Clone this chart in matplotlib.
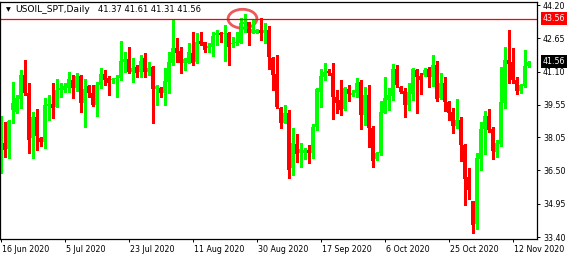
import numpy as np
import matplotlib
matplotlib.use("Agg")
import matplotlib.pyplot as plt
import matplotlib.transforms as mtrans
from matplotlib.patches import Ellipse

# daily candles, 16 Jun 2020 .. 17 Nov 2020 (bar index = position)
opens = [36.83, 37.79, 37.48, 39.31, 39.24, 39.81, 40.94, 40.09, 37.99, 39.00,
         37.99, 37.84, 39.50, 39.59, 39.47, 40.24, 40.24, 40.32, 40.71, 40.32,
         40.90, 39.62, 40.43, 40.09, 39.55, 40.48, 40.99, 40.80, 40.71, 40.77,
         40.79, 41.56, 41.67, 41.10, 41.30, 41.10, 41.72, 41.10, 41.33, 40.27,
         40.32, 40.12, 40.63, 41.52, 42.18, 42.06, 41.52, 41.52, 41.98, 41.56,
         42.54, 42.48, 42.18, 42.26, 42.80, 42.88, 42.83, 42.88, 42.37, 42.42,
         42.45, 43.32, 43.42, 42.91, 42.88, 43.04, 42.88, 43.04, 41.72, 40.99,
         39.39, 38.72, 39.16, 36.60, 37.73, 37.30, 37.33, 37.45, 37.30, 38.54,
         40.17, 40.86, 41.14, 41.05, 39.93, 39.78, 39.34, 40.27, 40.01, 40.09,
         40.63, 39.08, 40.01, 38.49, 37.02, 37.30, 39.19, 39.78, 39.96, 41.22,
         40.37, 40.21, 39.55, 40.06, 41.17, 40.90, 40.94, 41.22, 40.86, 41.41,
         39.86, 40.55, 39.68, 39.20, 38.57, 38.85, 37.68, 36.18, 35.06, 33.99,
         37.02, 38.41, 39.03, 38.41, 37.37, 37.73, 39.65, 41.64, 41.53, 40.71,
         40.21, 40.43, 41.37]
highs = [39.03, 38.77, 38.85, 40.63, 40.01, 41.17, 41.64, 40.55, 39.24, 39.34,
         38.07, 39.86, 40.01, 40.55, 40.76, 40.55, 40.55, 41.10, 40.94, 41.05,
         40.94, 40.74, 40.48, 40.48, 40.63, 41.25, 41.17, 40.90, 40.82, 40.94,
         42.54, 42.03, 42.26, 41.72, 41.41, 41.87, 41.95, 41.56, 41.36, 40.48,
         40.37, 41.25, 42.03, 43.50, 42.65, 42.26, 41.72, 42.42, 42.96, 42.88,
         42.96, 42.49, 42.42, 42.96, 43.04, 42.96, 43.27, 42.96, 42.73, 42.96,
         43.58, 43.78, 43.42, 43.50, 43.07, 43.58, 43.38, 43.22, 41.80, 41.87,
         39.47, 39.55, 39.31, 38.49, 38.18, 37.76, 37.53, 37.68, 38.66, 40.35,
         41.21, 41.52, 41.21, 41.52, 40.24, 40.71, 40.37, 40.48, 40.24, 40.79,
         40.71, 40.37, 40.48, 38.57, 37.37, 39.75, 40.86, 40.35, 41.45, 41.41,
         40.43, 40.32, 40.55, 41.25, 41.21, 41.05, 41.25, 41.33, 41.87, 41.59,
         41.02, 40.86, 39.75, 39.39, 39.82, 39.00, 37.73, 36.60, 35.09, 37.30,
         38.77, 39.27, 39.34, 38.51, 37.92, 41.33, 42.26, 43.04, 42.18, 40.86,
         40.52, 42.11, 41.61]
lows = [36.36, 37.14, 37.09, 38.72, 39.16, 39.39, 40.01, 37.30, 37.06, 37.45,
        37.65, 37.53, 38.85, 38.92, 39.44, 39.93, 40.17, 40.17, 39.89, 40.21,
        39.24, 38.54, 39.93, 39.50, 39.03, 40.35, 40.48, 40.01, 40.55, 39.93,
        40.71, 41.10, 41.05, 40.63, 40.86, 40.83, 40.83, 40.94, 38.72, 39.55,
        39.93, 39.55, 40.12, 41.41, 41.56, 41.05, 41.17, 41.49, 41.41, 41.49,
        42.34, 42.03, 42.03, 41.83, 42.34, 42.49, 41.59, 41.41, 42.26, 42.34,
        42.42, 42.96, 42.34, 42.88, 42.88, 42.57, 42.42, 41.21, 40.24, 39.39,
        38.49, 38.69, 36.13, 36.29, 36.91, 36.64, 37.02, 36.83, 37.06, 38.38,
        39.44, 40.71, 40.94, 38.88, 39.19, 39.08, 39.31, 39.73, 39.96, 39.93,
        38.41, 38.61, 37.61, 36.64, 36.98, 37.22, 39.16, 39.31, 39.78, 40.37,
        40.12, 39.00, 39.31, 39.78, 39.19, 40.06, 40.90, 40.40, 40.43, 39.75,
        39.81, 39.27, 38.85, 38.26, 38.46, 36.95, 34.89, 35.15, 33.60, 33.77,
        36.52, 37.26, 38.30, 37.05, 37.14, 37.65, 39.39, 40.55, 40.58, 40.06,
        40.12, 40.37, 41.31]
closes = [37.61, 37.45, 38.82, 39.65, 39.86, 40.94, 40.09, 37.92, 39.00, 38.10,
          37.84, 39.55, 39.59, 39.39, 40.24, 40.32, 40.43, 40.74, 40.35, 40.90,
          39.62, 40.27, 40.09, 39.55, 40.48, 40.99, 40.71, 40.55, 40.77, 40.82,
          41.59, 41.67, 41.10, 41.25, 41.05, 41.61, 41.10, 41.28, 40.27, 40.43,
          40.12, 40.66, 41.56, 42.18, 41.98, 41.52, 41.67, 42.03, 41.52, 42.49,
          42.38, 42.11, 42.29, 42.76, 42.91, 42.80, 42.88, 42.26, 42.45, 42.49,
          43.38, 43.42, 42.91, 43.07, 43.04, 42.88, 43.04, 41.76, 40.94, 39.47,
          38.72, 39.16, 36.52, 37.76, 37.26, 37.48, 37.45, 37.30, 38.54, 40.27,
          40.90, 41.10, 41.02, 39.90, 39.65, 39.31, 40.32, 40.04, 40.12, 40.55,
          39.08, 40.01, 38.46, 36.95, 37.33, 39.24, 39.86, 40.01, 41.22, 40.48,
          40.17, 39.55, 40.15, 41.22, 40.86, 40.71, 41.17, 40.86, 41.41, 39.82,
          40.55, 39.70, 39.19, 38.57, 38.85, 37.68, 36.10, 35.59, 33.96, 37.06,
          38.41, 39.03, 38.38, 37.42, 37.76, 39.70, 41.64, 41.45, 40.71, 40.21,
          40.46, 41.36, 41.56]

date_ticks = [0, 16, 32, 48, 64, 80, 96, 112, 128]
date_labels = ["16 Jun 2020", "5 Jul 2020", "23 Jul 2020", "11 Aug 2020",
               "30 Aug 2020", "17 Sep 2020", "6 Oct 2020", "25 Oct 2020",
               "12 Nov 2020"]
price_ticks = [44.20, 42.65, 41.10, 39.55, 38.05, 36.50, 34.95, 33.40]
level = 43.56
symbol = "USOIL_SPT,Daily"

o = np.array(opens)
h = np.array(highs)
l = np.array(lows)
c = np.array(closes)
x = np.arange(len(o))
up = c >= o
cols = np.where(up, "#00ff00", "#ff0000")

W, H = 579, 259
fig = plt.figure(figsize=(W / 100, H / 100), dpi=100)
ax = fig.add_axes([0, 20 / H, 537 / W, 237 / H])

ax.vlines(x, l, h, colors=cols, linewidth=0.8, antialiased=False)
body = np.maximum(np.abs(c - o), 0.035)
ax.bar(x, body, bottom=np.minimum(o, c), width=0.72, color=cols,
       linewidth=0, antialiased=False)

ax.axhline(level, color="#ff0000", linewidth=0.9)
imax = int(np.argmax(h))
ax.add_patch(Ellipse((imax - 0.5, level), 7.2, 0.88, fill=False,
                     edgecolor="#e83c3c", linewidth=2.0, alpha=0.85))

ax.set_xlim(-0.125, 134.125)
ax.set_ylim(33.31, 44.34)

ax.yaxis.tick_right()
ax.set_yticks(price_ticks)
ax.set_yticklabels(["%.2f" % v for v in price_ticks])
ax.set_xticks(date_ticks)
ax.set_xticklabels(date_labels, ha="left")
ax.tick_params(axis="both", length=2.3, width=0.7, labelsize=5.7,
               colors="black", pad=2)
shift = mtrans.ScaledTranslation(2 / 100, 0, fig.dpi_scale_trans)
for lab in ax.get_xticklabels():
    lab.set_transform(lab.get_transform() + shift)
for sp in ax.spines.values():
    sp.set_linewidth(0.9)
    sp.set_color("black")

# price boxes on the right scale
yt = ax.get_yaxis_transform()
ax.text(1.0, level, "%.2f" % level, transform=yt, fontsize=5.7, color="white",
        va="center", ha="left",
        bbox=dict(boxstyle="square,pad=0.25", fc="#ff0000", ec="none"))
ax.text(1.0, c[-1], "%.2f" % c[-1], transform=yt, fontsize=5.7, color="white",
        va="center", ha="left",
        bbox=dict(boxstyle="square,pad=0.25", fc="black", ec="none"))
for t in ax.texts:
    t.set_transform(t.get_transform() + mtrans.ScaledTranslation(6 / 100, 0, fig.dpi_scale_trans))

fig.text(5.5 / W, 1 - 9.5 / H, "\u25bc", fontsize=4.5, va="center", ha="left")
fig.text(15 / W, 1 - 10 / H, symbol, fontsize=6.6, va="center", ha="left")
fig.text(98 / W, 1 - 10 / H, "%.2f %.2f %.2f %.2f" % (o[-1], h[-1], l[-1], c[-1]),
         fontsize=6.0, va="center", ha="left")

fig.savefig("out.png", dpi=100)
